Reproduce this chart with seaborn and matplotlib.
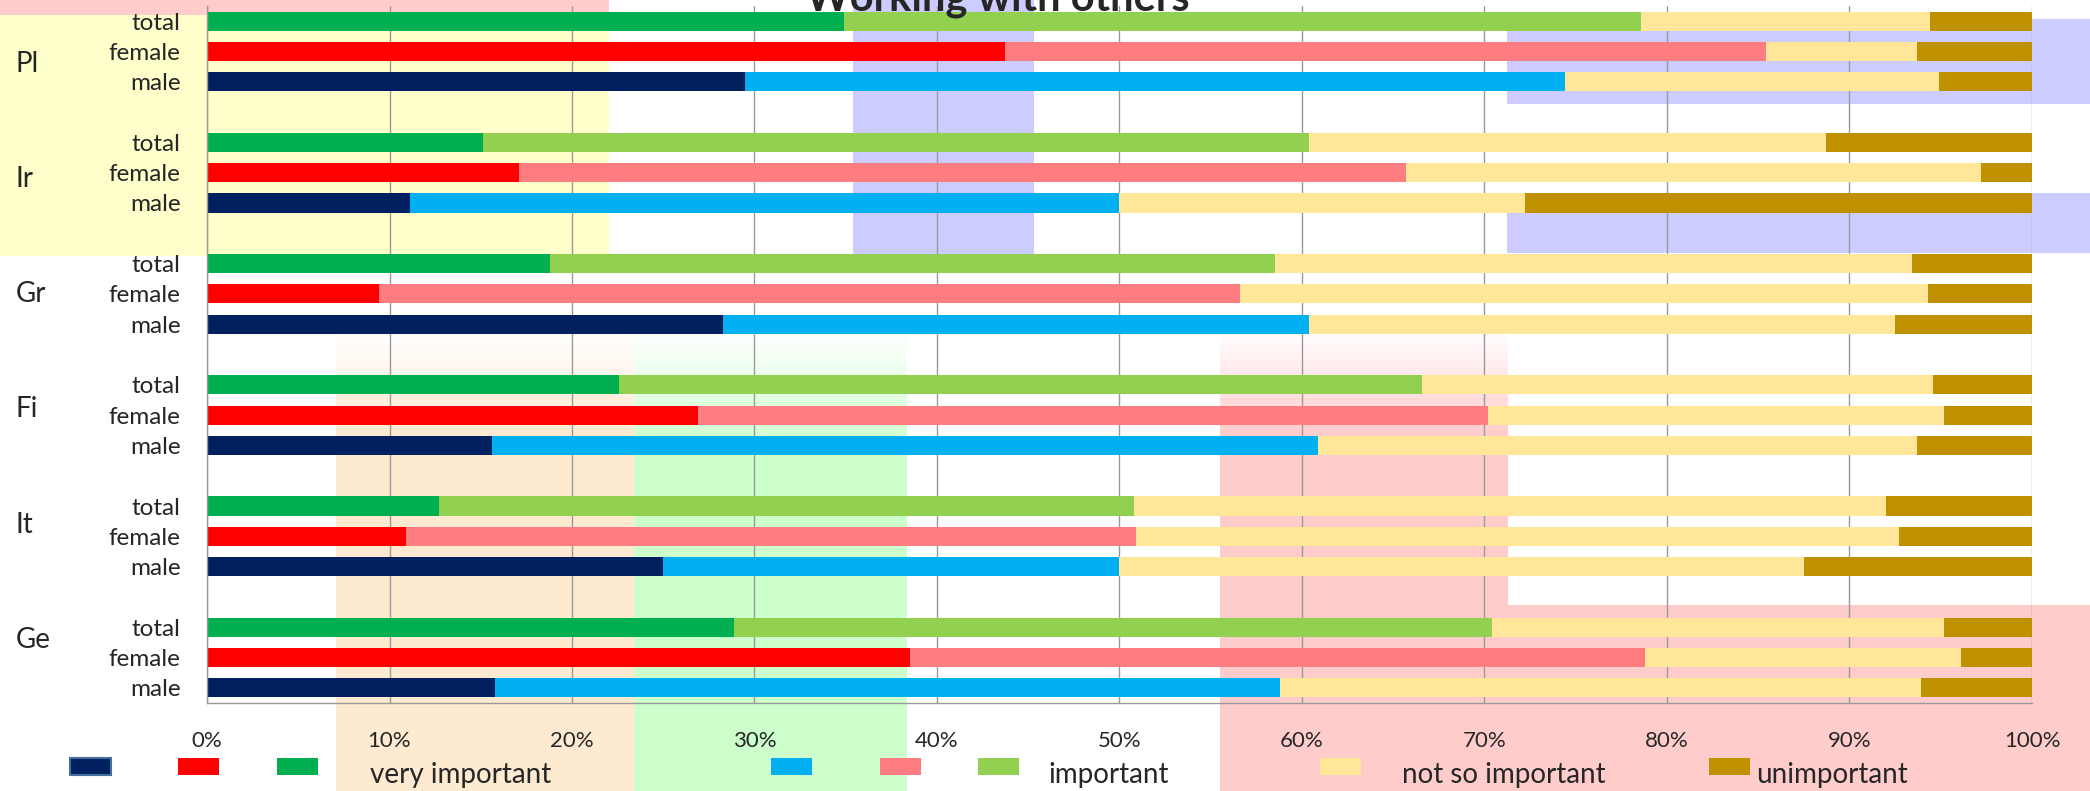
import matplotlib
matplotlib.use("Agg")
import matplotlib.pyplot as plt
import matplotlib.transforms as mtransforms
from matplotlib.patches import Rectangle
import pandas as pd
import seaborn as sns

countries = ["Pl", "Ir", "Gr", "Fi", "It", "Ge"]
genders = ["total", "female", "male"]
levels = ["very important", "important", "not so important", "unimportant"]

# percent of answers, one value per country (order as in countries)
total_very = [34.9, 15.1, 18.8, 22.6, 12.7, 28.9]
total_imp = [43.7, 45.3, 39.7, 44.0, 38.1, 41.5]
total_notso = [15.8, 28.3, 34.9, 28.0, 41.2, 24.8]
total_unimp = [5.6, 11.3, 6.6, 5.4, 8.0, 4.8]

female_very = [43.7, 17.1, 9.4, 26.9, 10.9, 38.5]
female_imp = [41.7, 48.6, 47.2, 43.3, 40.0, 40.3]
female_notso = [8.3, 31.5, 37.7, 25.0, 41.8, 17.3]
female_unimp = [6.3, 2.8, 5.7, 4.8, 7.3, 3.9]

male_very = [29.5, 11.1, 28.3, 15.6, 25.0, 15.8]
male_imp = [44.9, 38.9, 32.1, 45.3, 25.0, 43.0]
male_notso = [20.5, 22.2, 32.1, 32.8, 37.5, 35.1]
male_unimp = [5.1, 27.8, 7.5, 6.3, 12.5, 6.1]

parts = {
    "total": [total_very, total_imp, total_notso, total_unimp],
    "female": [female_very, female_imp, female_notso, female_unimp],
    "male": [male_very, male_imp, male_notso, male_unimp],
}
colors = {
    "total": ["#00B050", "#92D050", "#FFE699", "#BF9000"],
    "female": ["#FF0000", "#FF7C80", "#FFE699", "#BF9000"],
    "male": ["#002060", "#00B0F0", "#FFE699", "#BF9000"],
}

rows = []
for g in genders:
    for i, c in enumerate(countries):
        for k, lev in enumerate(levels):
            rows.append({"row": f"{c} {g}", "level": lev,
                         "value": parts[g][k][i], "color": colors[g][k]})
df = pd.DataFrame(rows)
df["cum"] = df.groupby("row")["value"].cumsum()

row_order = []
for i, c in enumerate(countries):
    if i > 0:
        row_order.append(f"gap{i}")
    row_order += [f"{c} {g}" for g in genders]

sns.set_style("white")
plt.rcParams["font.family"] = ["Lato", "DejaVu Sans"]

W, H = 2090, 791
fig = plt.figure(figsize=(W / 100, H / 100), dpi=100)
fig.patch.set_facecolor("white")


def px(x0, y0, x1, y1):
    # pixel box (top-left origin) -> figure fraction
    return x0 / W, 1 - y1 / H, (x1 - x0) / W, (y1 - y0) / H


def block(x0, y0, x1, y1, color, alpha=1.0):
    l, b, w, h = px(x0, y0, x1, y1)
    fig.add_artist(Rectangle((l, b), w, h, transform=fig.transFigure,
                             facecolor=color, edgecolor="none", alpha=alpha, zorder=-5))


def faded(x0, x1, y_fade0, y_fade1, y1, color):
    n = 12
    step = (y_fade1 - y_fade0) / n
    for j in range(n):
        block(x0, y_fade0 + j * step, x1, y_fade0 + (j + 1) * step + 0.5, color, (j + 1) / (n + 1))
    block(x0, y_fade1, x1, y1, color)


# slide background leftovers
block(0, 0, 609, 15, "#FFCCCC")
block(0, 15, 609, 256, "#FFFFCC")
block(853, 0, 1034, 256, "#CCCCFF")
block(1507, 19, W, 104, "#CCCCFF")
block(1507, 193, W, 253, "#CCCCFF")
faded(336, 634, 335, 430, H, "#FDEAD0")
faded(634, 907, 335, 450, H, "#CCFFCC")
faded(1220, 1508, 335, 430, H, "#FFCCCC")
block(1508, 605, W, H, "#FFCCCC")

ax = fig.add_axes(px(207, 6, 2032, 703))
ax.set_facecolor("none")

palette = {c: c for c in df["color"].unique()}
for lev in reversed(levels):
    sub = df[df["level"] == lev]
    sns.barplot(data=sub, x="cum", y="row", hue="color", palette=palette,
                order=row_order, dodge=False, width=0.63, saturation=1,
                linewidth=0, legend=False, orient="h", ax=ax)

ax.set_xlim(0, 100)
ax.set_ylim(len(row_order) - 0.5, -0.5)
ax.set_xticks(range(0, 101, 10))
ax.set_xticklabels([f"{v}%" for v in range(0, 101, 10)], fontsize=16)
ax.set_yticks(range(len(row_order)))
ax.set_yticklabels(["" if r.startswith("gap") else r.split(" ")[1] for r in row_order], fontsize=17.5)
ax.set_xlabel("")
ax.set_ylabel("")
ax.grid(axis="x", color="#9A9A9A", linewidth=1)
ax.grid(axis="y", visible=False)
ax.set_axisbelow(True)
ax.tick_params(axis="x", length=0, pad=20)
ax.tick_params(axis="y", length=0, pad=19)
for s in ["top", "right"]:
    ax.spines[s].set_visible(False)
for s in ["left", "bottom"]:
    ax.spines[s].set_color("#9A9A9A")
    ax.spines[s].set_linewidth(1)

# country labels
trans = mtransforms.blended_transform_factory(fig.transFigure, ax.transData)
for i, c in enumerate(countries):
    fig.text(16 / W, 1.41 + 3.8 * i, c, transform=trans, fontsize=20,
             ha="left", va="center")

# title (cut at the top as in the slide)
fig.text(998 / W, 1 - 10 / H, "Working with others", fontsize=30,
         fontweight="bold", ha="center", va="baseline", zorder=10)

# legend
legend_items = [
    ("#002060", 70, None), ("#FF0000", 178, None), ("#00B050", 277, ("very important", 370)),
    ("#00B0F0", 771, None), ("#FF7C80", 880, None), ("#92D050", 978, ("important", 1048)),
    ("#FFE699", 1320, ("not so important", 1402)), ("#BF9000", 1709, ("unimportant", 1756)),
]
for col, x0, lab in legend_items:
    l, b, w, h = px(x0, 758, x0 + 41, 775)
    ec = "#41719C" if col == "#002060" else "none"
    fig.add_artist(Rectangle((l, b), w, h, transform=fig.transFigure,
                             facecolor=col, edgecolor=ec, linewidth=1.5, zorder=5))
    if lab:
        fig.text(lab[1] / W, 1 - 783 / H, lab[0], fontsize=20, ha="left", va="baseline")

fig.savefig("out.png", dpi=100)
